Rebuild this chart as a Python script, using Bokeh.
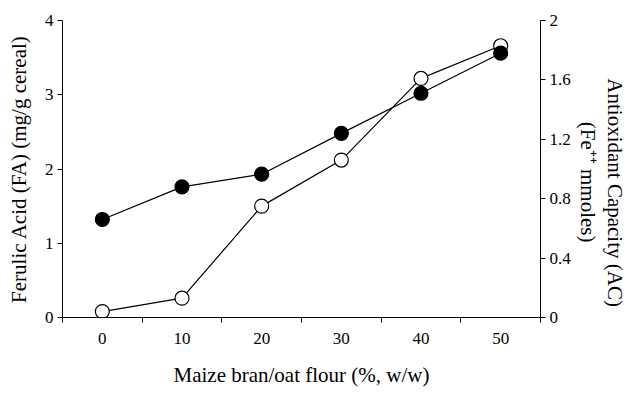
from bokeh.plotting import figure
from bokeh.models import Range1d, LinearAxis, FixedTicker
from bokeh.embed import file_html
from bokeh.resources import INLINE

# Data
bran_pct = [0, 10, 20, 30, 40, 50]
ferulic_acid = [1.32, 1.76, 1.93, 2.48, 3.02, 3.56]          # mg/g cereal (left axis)
antioxidant_capacity = [0.04, 0.13, 0.75, 1.06, 1.61, 1.83]   # Fe++ mmoles (right axis)

x_ticks = [0, 10, 20, 30, 40, 50]
x_minor = [-5, 5, 15, 25, 35, 45, 55]
left_ticks = [0, 1, 2, 3, 4]
right_ticks = [0, 0.4, 0.8, 1.2, 1.6, 2]
right_tick_labels = ["0", "0.4", "0.8", "1.2", "1.6", "2"]

FONT = "Liberation Serif"
TICK_FS = "17px"
LABEL_FS = "21px"
NB = "\u00a0"

p = figure(width=634, height=399, output_backend="svg", toolbar_location=None,
           x_range=Range1d(-5, 55), y_range=Range1d(0, 4),
           min_border_left=62, min_border_right=94, min_border_top=20, min_border_bottom=82)
p.outline_line_color = None
p.xgrid.visible = False
p.ygrid.visible = False
p.background_fill_color = "white"

p.extra_y_ranges = {"ac": Range1d(0, 2)}

# x axis
xa = p.xaxis[0]
xa.ticker = FixedTicker(ticks=x_ticks, minor_ticks=x_minor)
xa.major_tick_out = 0
xa.major_tick_in = 0
xa.minor_tick_out = 5
xa.minor_tick_in = 0
xa.minor_tick_line_color = "black"
xa.axis_line_color = "black"
xa.major_label_text_font = FONT
xa.major_label_text_font_size = TICK_FS
xa.major_label_text_color = "black"
xa.major_label_standoff = 10
xa.axis_label = "Maize bran/oat flour (%, w/w)"
xa.axis_label_text_font = FONT
xa.axis_label_text_font_style = "normal"
xa.axis_label_text_font_size = LABEL_FS
xa.axis_label_text_color = "black"
xa.axis_label_standoff = 16

# left axis
ya = p.yaxis[0]
ya.ticker = FixedTicker(ticks=left_ticks)
ya.major_tick_out = 5
ya.major_tick_in = 0
ya.minor_tick_out = 0
ya.minor_tick_in = 0
ya.axis_line_color = "black"
ya.major_tick_line_color = "black"
ya.major_label_text_font = FONT
ya.major_label_text_font_size = TICK_FS
ya.major_label_text_color = "black"
ya.major_label_standoff = 4
ya.axis_label = "Ferulic Acid (FA) (mg/g cereal)"
ya.axis_label_text_font = FONT
ya.axis_label_text_font_style = "normal"
ya.axis_label_text_font_size = LABEL_FS
ya.axis_label_text_color = "black"
ya.axis_label_standoff = 11

# right axis (ticks + second label line)
ra = LinearAxis(y_range_name="ac", ticker=FixedTicker(ticks=right_ticks))
ra.major_label_overrides = {t: s for t, s in zip(right_ticks, right_tick_labels)}
ra.major_tick_out = 5
ra.major_tick_in = 0
ra.minor_tick_out = 0
ra.minor_tick_in = 0
ra.axis_line_color = "black"
ra.major_label_text_font = FONT
ra.major_label_text_font_size = TICK_FS
ra.major_label_text_color = "black"
ra.major_label_standoff = 4
ra.axis_label = NB * 5 + "(Fe\u207a\u207a mmoles)"
ra.axis_label_text_font = FONT
ra.axis_label_text_font_style = "normal"
ra.axis_label_text_font_size = LABEL_FS
ra.axis_label_text_color = "black"
ra.axis_label_standoff = 2
p.add_layout(ra, "right")

# outer label line on the right (axis with no ticks)
ra2 = LinearAxis(y_range_name="ac", ticker=FixedTicker(ticks=[]))
ra2.axis_line_color = None
ra2.major_tick_out = 0
ra2.major_tick_in = 0
ra2.minor_tick_out = 0
ra2.minor_tick_in = 0
ra2.major_label_standoff = 0
ra2.axis_label = NB * 9 + "Antioxidant Capacity (AC)"
ra2.axis_label_text_font = FONT
ra2.axis_label_text_font_style = "normal"
ra2.axis_label_text_font_size = LABEL_FS
ra2.axis_label_text_color = "black"
ra2.axis_label_standoff = 0
p.add_layout(ra2, "right")

# open circles: antioxidant capacity (right axis)
p.line(bran_pct, antioxidant_capacity, y_range_name="ac", line_color="black", line_width=1.2)
p.scatter(bran_pct, antioxidant_capacity, y_range_name="ac", size=14, marker="circle",
          fill_color="white", line_color="black", line_width=1.2)

# filled circles: ferulic acid (left axis)
p.line(bran_pct, ferulic_acid, line_color="black", line_width=1.2)
p.scatter(bran_pct, ferulic_acid, size=14, marker="circle",
          fill_color="black", line_color="black", line_width=1.2)

open("out.html", "w").write(file_html(p, INLINE))
